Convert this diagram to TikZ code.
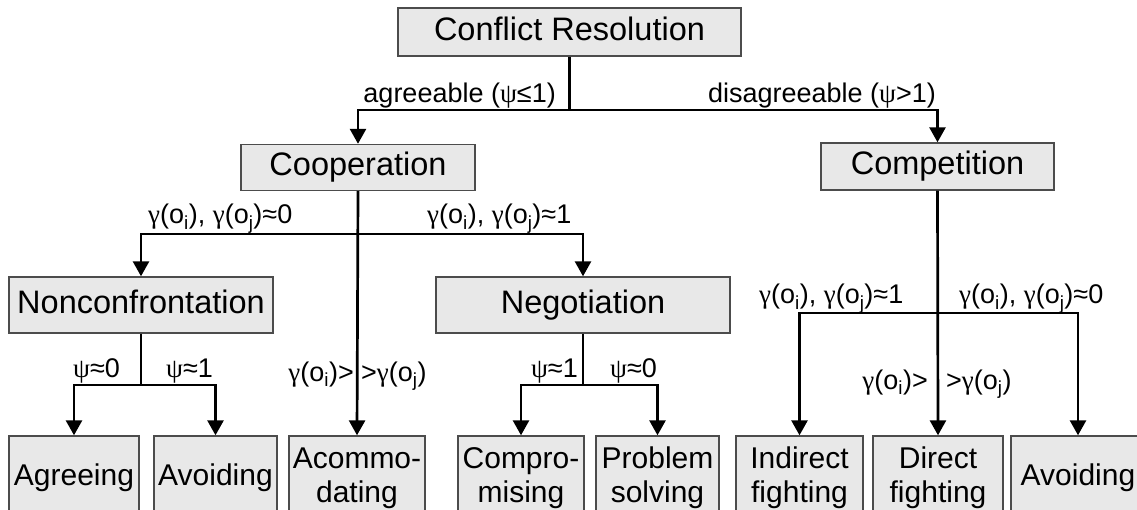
\documentclass[tikz,border=0pt]{standalone}
\usepackage{fontspec}
\setmainfont{Liberation Sans}
\newfontfamily\grk{Liberation Serif}
\usetikzlibrary{arrows.meta}
\definecolor{boxfill}{gray}{0.91}
\definecolor{boxline}{gray}{0.30}
\tikzset{
  box/.style={draw=boxline, fill=boxfill, line width=1.4pt, inner sep=0pt,
    font=\fontsize{32.5}{36}\selectfont, text height=24pt, text depth=7pt},
  leaf/.style={draw=boxline, fill=boxfill, line width=1.4pt, inner sep=0pt,
    align=center, minimum height=84pt, font=\fontsize{30}{34}\selectfont},
  lbl/.style={inner sep=0pt, font=\fontsize{27}{30}\selectfont},
  wire/.style={line width=2.7pt, draw=black},
  arr/.style={wire, -{Triangle[length=15pt,width=16pt]}}
}
% Greek letters are set upright in a serif face, as in the original figure
\newcommand{\gm}{{\grk γ}}
\newcommand{\ps}{{\grk ψ}}
\newcommand{\gam}[1]{\gm(o\textsubscript{#1})}
\begin{document}
\begin{tikzpicture}[x=1pt,y=-1pt]
\path[use as bounding box] (0,0) rectangle (1137,510);
\clip (0,0) rectangle (1137,510);

% top level
\node[box, minimum width=343pt, minimum height=48pt] (cr) at (569.5,32) {Conflict Resolution};
\node[box, minimum width=234pt, minimum height=46pt] (coop) at (358,167.5) {Cooperation};
\node[box, minimum width=233pt, minimum height=47pt] (comp) at (937.5,166.5) {Competition};

% second level
\node[box, minimum width=264pt, minimum height=56pt] (nonc) at (141,305) {Nonconfrontation};
\node[box, minimum width=294pt, minimum height=56pt] (nego) at (583,305) {Negotiation};

% leaves
\node[leaf, minimum width=130pt] (agree) at (74,478) {Agreeing};
\node[leaf, minimum width=123pt] (avoidA) at (215.5,478) {Avoiding};
\node[leaf, minimum width=136pt] (acc) at (357,478) {Acommo-\\dating};
\node[leaf, minimum width=126pt] (compr) at (521,478) {Compro-\\mising};
\node[leaf, minimum width=123pt] (prob) at (657.5,478) {Problem\\solving};
\node[leaf, minimum width=127pt] (indir) at (799.5,478) {Indirect\\fighting};
\node[leaf, minimum width=130pt] (direct) at (938,478) {Direct\\fighting};
\node[leaf, minimum width=134pt] (avoidB) at (1078,478) {Avoiding};

% branching points
\coordinate (j1) at (569.5,110);
\coordinate (j2) at (358,234);
\coordinate (j3) at (141,385);
\coordinate (j4) at (583,385);
\coordinate (j5) at (937.5,313);

% connectors
\draw[wire] (cr.south) -- (j1);
\draw[arr] (j1) -| (coop.north);
\draw[arr] (j1) -| (comp.north);

\draw[arr] (coop.south) -- (acc.north);
\draw[arr] (j2) -| (nonc.north);
\draw[arr] (j2) -| (nego.north);

\draw[wire] (nonc.south) -- (j3);
\draw[arr] (j3) -| (agree.north);
\draw[arr] (j3) -| (avoidA.north);

\draw[wire] (nego.south) -- (j4);
\draw[arr] (j4) -| (compr.north);
\draw[arr] (j4) -| (prob.north);

\draw[arr] (comp.south) -- (direct.north);
\draw[arr] (j5) -| (indir.north);
\draw[arr] (j5) -| (avoidB.north);

% edge labels
\node[lbl, anchor=base east] (l1) at (556,103) {agreeable (\ps≤1)};
\node[lbl, anchor=base east] (l2) at (936,103) {disagreeable (\ps>1)};

\node[lbl, anchor=base west] (l3) at (148,224) {\gam{i}, \gam{j}≈0};
\node[lbl, anchor=base west] (l4) at (427,224) {\gam{i}, \gam{j}≈1};

\node[lbl, anchor=base west] (l5) at (759,304) {\gam{i}, \gam{j}≈1};
\node[lbl, anchor=base west] (l6) at (959,304) {\gam{i}, \gam{j}≈0};

\node[lbl, anchor=base west] (l7) at (73,377) {\ps≈0};
\node[lbl, anchor=base west] (l8) at (166,377) {\ps≈1};

\node[lbl, anchor=base east] (l9) at (354,381) {\gam{i}>};
\node[lbl, anchor=base west] (l10) at (361,381) {>\gam{j}};

\node[lbl, anchor=base east] (l11) at (578,377) {\ps≈1};
\node[lbl, anchor=base west] (l12) at (610,377) {\ps≈0};

\node[lbl, anchor=base east] (l13) at (928,389) {\gam{i}>};
\node[lbl, anchor=base west] (l14) at (946,389) {>\gam{j}};
\end{tikzpicture}
\end{document}
